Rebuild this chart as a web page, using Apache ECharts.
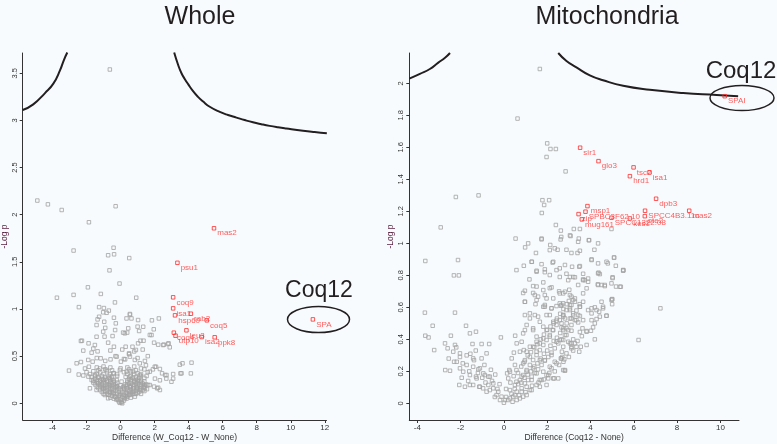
<!DOCTYPE html>
<html>
<head>
<meta charset="utf-8">
<script src="https://cdn.jsdelivr.net/npm/echarts@6/dist/echarts.min.js"></script>
<style>
  html, body { margin: 0; padding: 0; background: #f8fbfd; }
  #chart { width: 777px; height: 444px; }
</style>
</head>
<body>
<div id="chart"></div>
<script>
// two volcano plots: whole cell vs mitochondria (Coq12 pulldown)

// tick values
var wholeXTicks = [-4, -2, 0, 2, 4, 6, 8, 10, 12];
var wholeYTicks = [0, 0.5, 1, 1.5, 2, 2.5, 3, 3.5];
var mitoXTicks = [-4, -2, 0, 2, 4, 6, 8, 10];
var mitoYTicks = [0, 0.2, 0.4, 0.6, 0.8, 1, 1.2, 1.4, 1.6, 1.8, 2];

// labelled (red) proteins
var wholeHitNames = ['mas2', 'psu1', 'coq9', 'isa1', 'hsp60', 'rab2', 'coq5', 'leu3', 'coq4', 'utp10', 'isa2', 'ppk8', 'SPA'];
var wholeHits = [[5.49, 1.856], [3.34, 1.49], [3.09, 1.124], [3.09, 1.007], [3.20, 0.933], [4.13, 0.95], [5.07, 0.88],
  [3.87, 0.774], [3.13, 0.749], [3.23, 0.717], [4.77, 0.703], [5.53, 0.70], [11.30, 0.89]];

var mitoHitNames = ['SPAI', 'sir1', 'glo3', 'tsc2', 'isa1', 'hrd1', 'dpb3', 'msp1', 'SPCC4B3.11c', 'mas2',
  'SPBC3F62.10', 'zip', 'mug161', 'SPCC1322.08', 'kes1', 'ste2'];
var mitoHits = [[10.2, 1.92], [3.52, 1.598], [4.37, 1.514], [5.99, 1.475], [6.73, 1.444], [5.82, 1.42], [7.03, 1.279],
  [3.86, 1.233], [6.52, 1.204], [8.56, 1.204], [3.77, 1.198], [3.45, 1.183], [3.6, 1.15], [4.97, 1.16], [5.82, 1.156], [6.51, 1.17]];

// significance curves
var wholeCurveL = [[-5.75, 3.11], [-5.13, 3.17], [-4.44, 3.29], [-3.95, 3.39], [-3.56, 3.53], [-3.33, 3.64], [-3.13, 3.72]];
var wholeCurveR = [[3.15, 3.72], [3.38, 3.59], [3.58, 3.50], [3.77, 3.44], [3.97, 3.385], [4.26, 3.31], [4.55, 3.25],
  [4.85, 3.20], [5.24, 3.145], [5.83, 3.09], [6.31, 3.057], [6.81, 3.03], [7.29, 3.004], [7.78, 2.98], [8.27, 2.96],
  [8.76, 2.942], [9.25, 2.927], [9.74, 2.914], [10.72, 2.89], [11.4, 2.876], [12.12, 2.863]];
var mitoCurveL = [[-4.37, 2.03], [-3.88, 2.06], [-3.42, 2.09], [-3.03, 2.13], [-2.72, 2.16], [-2.49, 2.19]];
var mitoCurveR = [[2.51, 2.19], [2.89, 2.14], [3.35, 2.10], [3.97, 2.05], [4.58, 2.02], [5.51, 1.985], [6.74, 1.96],
  [8.28, 1.94], [9.82, 1.928], [10.82, 1.92]];

// all other proteins (grey)
var wholeGray = [
  [-0.63, 3.54], [-4.89, 2.15], [-4.27, 2.11], [-3.46, 2.05], [-0.29, 2.09], [-1.86, 1.92], [-0.41, 1.65], [-2.76, 1.62],
  [-0.73, 1.57], [-0.38, 1.58], [0.51, 1.54], [-0.65, 1.41], [-0.06, 1.27], [-1.92, 1.23], [-2.76, 1.15], [-3.74, 1.12],
  [-1.16, 1.16], [0.92, 1.12], [-0.33, 1.07], [-2.45, 1.02], [-1.26, 1.02], [-0.98, 1.01],
  [-1.02, 0.965], [-0.69, 0.983], [-1.35, 0.89], [-0.39, 0.908], [0.55, 0.94], [0.35, 0.90], [1.0, 0.813], [1.84, 0.88],
  [-0.90, 0.80], [0.15, 0.75], [0.39, 0.75], [-0.94, 0.707], [-0.47, 0.713], [-0.32, 0.777], [-2.27, 0.664], [-1.88, 0.636],
  [-1.51, 0.618], [-0.73, 0.643], [-0.39, 0.60], [1.17, 0.664], [1.35, 0.664], [1.03, 0.636], [1.72, 0.725], [2.54, 0.622],
  [2.82, 0.636], [2.21, 0.622], [0.70, 0.60], [0.90, 0.566], [0.50, 0.53], [-2.19, 0.559], [-1.70, 0.537], [-1.35, 0.551],
  [-3.03, 0.347], [-2.58, 0.424], [-2.33, 0.438], [-2.09, 0.369], [-2.46, 0.305], [-2.19, 0.295], [-1.86, 0.388], [-1.64, 0.442],
  [-1.17, 0.477], [-0.59, 0.466], [-0.23, 0.495], [0.02, 0.442], [0.27, 0.466], [0.55, 0.495], [0.84, 0.46], [1.13, 0.424],
  [1.43, 0.449], [1.49, 0.403], [1.72, 0.336], [2.08, 0.388], [2.31, 0.364], [2.62, 0.30], [3.09, 0.31], [3.52, 0.317],
  [4.13, 0.317], [4.17, 0.431], [3.64, 0.424], [3.09, 0.262], [2.69, 0.262], [2.31, 0.244], [2.02, 0.262], [1.72, 0.194],
  [1.97, 0.177], [2.21, 0.166], [1.09, 0.24], [0.55, 0.283], [1.53, 0.29], [1.13, 0.30], [0.74, 0.336], [0.35, 0.336],
  [-0.04, 0.353], [-0.43, 0.317], [-0.82, 0.353], [-1.21, 0.369], [-1.50, 0.30], [-1.89, 0.283], [-1.70, 0.247], [-1.80, 0.159],
  [-1.31, 0.212], [-1.02, 0.247], [-0.63, 0.265], [-0.23, 0.247], [0.06, 0.23], [0.84, 0.23], [1.39, 0.194], [0.94, 0.159],
  [0.55, 0.177], [0.23, 0.159], [-0.23, 0.177], [-0.63, 0.194], [-1.02, 0.159], [-1.41, 0.141], [-0.92, 0.088], [-0.63, 0.124],
  [-0.33, 0.071], [-0.14, 0.035], [0.06, 0.018], [0.25, 0.053], [0.55, 0.088], [0.74, 0.124], [0.35, 0.113], [-0.04, 0.088],
  [-0.43, 0.113], [1.13, 0.141], [1.43, 0.159], [-0.73, 0.053], [0.84, 0.071],
  [2.50, 0.618], [2.79, 0.629], [2.89, 0.594], [3.48, 0.41], [3.58, 0.318], [2.99, 0.229], [2.70, 0.30], [1.97, 0.643],
  [1.95, 0.785], [2.25, 0.90], [1.33, 0.812], [1.09, 0.767], [1.82, 0.724], [-2.33, 0.661], [-1.41, 0.706], [-1.02, 0.76],
  [-1.41, 0.83], [-0.96, 0.865], [-1.26, 0.918], [-0.82, 0.96], [-0.28, 0.848], [0.25, 0.742], [0.45, 0.795], [0.64, 0.9],
  [0.55, 0.947], [1.03, 0.883], [2.01, 0.388], [2.44, 0.318], [2.15, 0.159], [2.31, 0.141], [1.62, 0.194],
  [-0.25, 0.04], [-0.1, 0.02], [0.05, 0.01], [0.2, 0.03], [0.35, 0.05], [0.1, 0.0], [-0.05, 0.005],
  [-0.7, 0.09], [-0.5, 0.08], [-0.3, 0.07], [-0.1, 0.08], [0.1, 0.07], [0.3, 0.08], [0.5, 0.09], [0.7, 0.1], [0.9, 0.1],
  [-1.1, 0.12], [-0.9, 0.13], [-0.7, 0.12], [-0.5, 0.12], [-0.3, 0.13], [-0.1, 0.12], [0.1, 0.12], [0.3, 0.11], [0.5, 0.13],
  [0.7, 0.12], [0.9, 0.13], [1.1, 0.12], [1.3, 0.14],
  [-1.3, 0.16], [-1.1, 0.17], [-0.9, 0.16], [-0.7, 0.17], [-0.5, 0.16], [-0.3, 0.17], [-0.1, 0.16], [0.15, 0.17], [0.35, 0.16],
  [0.55, 0.17], [0.75, 0.16], [0.95, 0.17], [1.15, 0.16], [1.35, 0.17], [1.55, 0.15],
  [-1.5, 0.2], [-1.3, 0.21], [-1.1, 0.2], [-0.9, 0.21], [-0.7, 0.2], [-0.5, 0.21], [-0.3, 0.2], [0.3, 0.2], [0.5, 0.21],
  [0.7, 0.2], [0.9, 0.21], [1.1, 0.2], [1.3, 0.21], [1.5, 0.2],
  [-1.6, 0.24], [-1.4, 0.25], [-1.2, 0.24], [-1.0, 0.25], [-0.8, 0.24], [-0.6, 0.25], [-0.4, 0.24], [0.4, 0.24], [0.6, 0.25],
  [0.8, 0.24], [1.0, 0.25], [1.2, 0.24],
  [-1.7, 0.28], [-1.5, 0.29], [-1.3, 0.28], [-1.1, 0.29], [-0.9, 0.28], [-0.7, 0.29], [-0.5, 0.28], [-0.2, 0.29], [0.3, 0.28],
  [0.6, 0.29], [0.9, 0.28], [1.2, 0.29], [1.4, 0.27],
  [-2.0, 0.33], [-1.6, 0.34], [-1.2, 0.33], [-0.8, 0.34], [-0.4, 0.32], [0.2, 0.33], [0.6, 0.34], [1.0, 0.32], [1.6, 0.33],
  [-1.4, 0.38], [-1.0, 0.39], [-0.6, 0.38], [0.4, 0.38], [0.8, 0.39], [1.2, 0.37], [1.9, 0.36],
  [-1.9, 0.46], [-1.4, 0.48], [-0.9, 0.45], [-0.3, 0.5], [0.2, 0.47], [0.5, 0.52], [1.0, 0.48], [1.6, 0.5], [-0.6, 0.56],
  [0.1, 0.57], [0.8, 0.55], [-1.6, 0.58], [0.3, 0.6], [1.3, 0.57],
  [-0.6, 0.06], [-0.4, 0.05], [-0.2, 0.05], [0.0, 0.04], [0.2, 0.06], [0.4, 0.07], [0.6, 0.06],
  [-1.0, 0.1], [-0.8, 0.1], [-0.6, 0.11], [-0.4, 0.1], [-0.2, 0.1], [0.0, 0.1], [0.2, 0.09], [0.4, 0.1], [0.6, 0.11],
  [0.8, 0.1], [1.0, 0.11], [1.2, 0.1],
  [-1.2, 0.14], [-1.0, 0.15], [-0.8, 0.14], [-0.6, 0.15], [-0.4, 0.14], [-0.2, 0.15], [0.0, 0.14], [0.2, 0.15], [0.4, 0.14],
  [0.6, 0.15], [0.8, 0.14], [1.0, 0.15], [1.2, 0.14], [1.4, 0.13],
  [-1.4, 0.18], [-1.2, 0.19], [-1.0, 0.18], [-0.8, 0.19], [-0.6, 0.18], [-0.4, 0.19], [-0.2, 0.18], [0.0, 0.19], [0.2, 0.18],
  [0.4, 0.19], [0.6, 0.18], [0.8, 0.19], [1.0, 0.18], [1.2, 0.19], [1.4, 0.18],
  [-1.6, 0.22], [-1.4, 0.23], [-1.2, 0.22], [-1.0, 0.23], [-0.8, 0.22], [-0.6, 0.23], [-0.4, 0.22], [-0.2, 0.22], [0.4, 0.22],
  [0.6, 0.23], [0.8, 0.22], [1.0, 0.23], [1.2, 0.22], [1.4, 0.23],
  [-1.5, 0.26], [-1.3, 0.27], [-1.1, 0.26], [-0.9, 0.26], [-0.7, 0.27], [-0.5, 0.26], [0.5, 0.26], [0.7, 0.27], [0.9, 0.26],
  [1.1, 0.27],
  [-1.8, 0.31], [-1.4, 0.31], [-1.0, 0.31], [-0.6, 0.31], [-0.2, 0.31], [0.4, 0.31], [0.8, 0.31], [1.2, 0.31], [-1.3, 0.35],
  [-0.9, 0.36], [-0.5, 0.35], [0.0, 0.37], [0.5, 0.36], [0.9, 0.35], [1.4, 0.36]
];

var mitoGray = [
  [1.66, 2.09], [0.63, 1.78], [2.0, 1.625], [2.15, 1.59], [2.4, 1.59], [1.97, 1.54], [2.85, 1.45], [-2.22, 1.29], [-1.17, 1.30],
  [1.78, 1.27], [2.09, 1.27], [1.86, 1.24], [1.75, 1.19], [-2.92, 1.10], [2.4, 1.115], [2.63, 1.08], [3.23, 1.09], [3.51, 1.09],
  [4.97, 1.09], [0.54, 1.03], [1.74, 1.03], [2.65, 1.04], [3.08, 1.046], [3.46, 1.03], [3.92, 1.02], [4.35, 1.0], [0.98, 0.975],
  [1.12, 1.0], [2.14, 0.99], [2.48, 0.96], [2.89, 0.96], [3.4, 0.94], [4.18, 0.96], [-3.63, 0.89], [-2.12, 0.896], [1.29, 0.885],
  [1.74, 0.87], [2.25, 0.88], [3.15, 0.854], [3.48, 0.854], [4.05, 0.896], [5.09, 0.91], [5.17, 0.86], [5.52, 0.833],
  [-2.31, 0.80], [-2.08, 0.80], [0.58, 0.833], [0.92, 0.86], [1.51, 0.823], [1.89, 0.82], [2.43, 0.833], [2.89, 0.81],
  [3.2, 0.79], [3.66, 0.775], [4.37, 0.817], [4.8, 0.875], [5.02, 0.783], [1.18, 0.775], [1.51, 0.73], [1.82, 0.756],
  [2.12, 0.72], [2.55, 0.70], [3.02, 0.71], [3.43, 0.74], [3.89, 0.76], [4.34, 0.744], [4.66, 0.74], [5.18, 0.73],
  [0.97, 0.704], [0.97, 0.635], [1.43, 0.677], [1.89, 0.677], [1.46, 0.62], [1.82, 0.604], [2.2, 0.594], [2.63, 0.61],
  [3.05, 0.594], [3.51, 0.604], [3.89, 0.583], [4.28, 0.583], [4.58, 0.604], [5.0, 0.652], [5.0, 0.62], [4.74, 0.548],
  [7.23, 0.594], [0.97, 0.552], [1.2, 0.531], [1.58, 0.542], [2.12, 0.552], [2.43, 0.517], [2.74, 0.542], [3.12, 0.531],
  [3.43, 0.506], [3.66, 0.52], [4.05, 0.52], [4.43, 0.542], [-3.65, 0.567], [-2.26, 0.567], [-3.29, 0.485], [-3.63, 0.423],
  [-3.48, 0.412], [-3.22, 0.333], [-2.45, 0.423], [-1.75, 0.485], [-1.57, 0.4375], [-1.29, 0.448], [-2.26, 0.365],
  [-0.14, 0.412], [0.52, 0.423], [0.97, 0.458], [1.35, 0.469], [1.82, 0.479], [2.25, 0.458], [2.66, 0.475], [3.12, 0.454],
  [3.51, 0.446], [3.82, 0.452], [4.2, 0.40], [6.22, 0.396], [3.48, 0.323], [2.82, 0.204], [-2.72, 0.375], [-2.6, 0.344],
  [-2.34, 0.323], [-1.45, 0.371], [-1.03, 0.371], [-0.68, 0.371], [0.46, 0.317], [0.82, 0.385], [0.92, 0.333], [1.2, 0.354],
  [1.51, 0.385], [1.82, 0.406], [2.12, 0.417], [2.43, 0.385], [2.74, 0.396], [3.05, 0.375], [3.35, 0.354], [3.82, 0.365],
  [2.68, 0.323], [2.63, 0.281], [-2.71, 0.208], [-2.49, 0.204], [-2.18, 0.26], [-2.03, 0.29], [-1.72, 0.24], [-1.38, 0.27],
  [-1.18, 0.2125], [-1.88, 0.198], [-2.06, 0.115], [-1.57, 0.115], [-1.29, 0.167], [-0.95, 0.1875], [-0.65, 0.167],
  [-0.72, 0.115], [-1.11, 0.104], [-0.49, 0.094], [-0.26, 0.073], [-0.11, 0.042], [0.05, 0.021], [0, 0.004], [0.15, 0.1875],
  [0.25, 0.208], [0.58, 0.208], [0.58, 0.135], [0.82, 0.167], [1.05, 0.198], [0.89, 0.25], [1.35, 0.219], [1.51, 0.1875],
  [1.28, 0.146], [1.05, 0.104], [0.82, 0.073], [0.51, 0.052], [0.28, 0.031], [1.66, 0.146], [1.82, 0.198], [2.12, 0.229],
  [2.32, 0.156], [2.05, 0.177], [1.89, 0.27], [1.66, 0.27], [2.2, 0.302], [2.35, 0.26], [1.51, 0.323], [1.2, 0.29], [0.97, 0.27],
  [-2.03, 0.3125], [-1.72, 0.30], [-1.42, 0.281], [-1.03, 0.281], [-0.80, 0.3125], [-2.03, 0.219], [-1.42, 0.229], [-1.11, 0.219],
  [-1.57, 0.177], [-1.26, 0.156], [-0.88, 0.177], [-0.72, 0.167], [-0.49, 0.125], [-0.65, 0.083], [-0.96, 0.094], [-0.34, 0.052],
  [-0.18, 0.021], [-1.8, 0.104], [-1.42, 0.115], [-1.14, 0.104], [-0.80, 0.073], [-0.42, 0.04],
  [0.2, 0.021], [0.43, 0.042], [0.59, 0.073], [0.82, 0.094], [0.97, 0.125], [1.12, 0.146], [1.28, 0.167], [1.43, 0.19],
  [1.58, 0.2125], [1.74, 0.24], [1.89, 0.267], [2.05, 0.29], [2.2, 0.317], [2.35, 0.344], [2.51, 0.375], [2.66, 0.4],
  [2.82, 0.427], [2.97, 0.458], [3.12, 0.49], [3.28, 0.52], [3.43, 0.552],
  [0.28, 0.083], [0.51, 0.115], [0.74, 0.146], [0.89, 0.177], [1.05, 0.208], [1.2, 0.24], [1.35, 0.271], [1.51, 0.302],
  [1.66, 0.333], [1.82, 0.365], [1.97, 0.396], [2.12, 0.427], [2.28, 0.458], [2.43, 0.49], [2.58, 0.52], [2.74, 0.552],
  [2.89, 0.583], [3.05, 0.615], [3.2, 0.646],
  [0.59, 0.021], [0.89, 0.042], [1.2, 0.083], [1.51, 0.115], [1.74, 0.146], [1.97, 0.177], [2.2, 0.219], [2.43, 0.25],
  [2.66, 0.281], [2.89, 0.3125], [3.12, 0.354], [3.28, 0.375], [2.82, 0.208], [2.28, 0.156], [1.97, 0.115],
  [3.55, 0.354], [3.12, 0.344], [3.12, 0.375], [2.79, 0.275], [2.7, 0.29], [3.2, 0.40], [2.89, 0.427], [3.63, 0.469],
  [3.82, 0.448], [4.02, 0.454], [4.12, 0.475], [4.2, 0.5], [4.28, 0.527], [4.74, 0.548], [4.58, 0.594], [4.2, 0.60],
  [4.05, 0.5625], [4.4, 0.573], [4.51, 0.635], [5.0, 0.65], [3.51, 0.546], [3.35, 0.52], [3.2, 0.5625], [3.05, 0.583],
  [3.51, 0.604], [3.28, 0.635], [3.12, 0.667], [2.82, 0.698], [3.66, 0.6875], [3.82, 0.719], [4.35, 0.74], [4.66, 0.733],
  [5.4, 0.729], [5.02, 0.788], [4.43, 0.808], [3.66, 0.81], [3.28, 0.788], [3.74, 0.77], [2.97, 0.77], [5.51, 0.829],
  [2.66, 0.615], [2.74, 0.552], [2.82, 0.531], [2.66, 0.5], [2.89, 0.469], [2.74, 0.458], [2.58, 0.396], [2.97, 0.385],
  [2.74, 0.354],
  [1.74, 1.025], [2.62, 1.025], [3.05, 1.05], [3.43, 1.01], [3.94, 1.02], [1.48, 0.94], [2.12, 0.958], [2.35, 0.969],
  [3.12, 0.94], [3.51, 0.954], [4.05, 0.90], [4.74, 0.885], [5.09, 0.9125], [5.51, 0.833], [1.28, 0.885], [1.51, 0.829],
  [1.89, 0.8375], [2.28, 0.885], [2.58, 0.844], [2.82, 0.865], [3.51, 0.858], [4.35, 0.875], [4.35, 0.8125], [2.12, 0.802],
  [2.58, 0.79], [3.05, 0.79], [3.66, 0.77], [3.89, 0.78], [4.51, 0.74], [4.97, 0.75], [5.36, 0.729], [1.35, 0.733],
  [1.82, 0.708], [2.2, 0.725], [2.58, 0.6875], [3.05, 0.677], [3.28, 0.656], [1.97, 0.656], [1.51, 0.646], [2.74, 0.625],
  [3.12, 0.615], [2.43, 0.608], [1.89, 0.604], [3.66, 0.635], [4.05, 0.594], [4.97, 0.646],
  [0.97, 0.635], [1.2, 0.5625], [1.05, 0.49], [0.89, 0.4375], [0.59, 0.375], [0.74, 0.323], [0.36, 0.281], [0.51, 0.24],
  [0.28, 0.198], [0.2, 0.156], [1.51, 0.417], [1.35, 0.458], [1.66, 0.51], [1.43, 0.552], [1.97, 0.552], [1.89, 0.615],
  [2.2, 0.594], [1.58, 0.667], [2.28, 0.656], [2.58, 0.625], [2.74, 0.6875], [1.35, 0.69], [0.89, 0.69], [1.05, 0.323],
  [1.35, 0.354], [1.66, 0.375], [1.97, 0.458], [2.28, 0.51], [2.74, 0.208], [2.51, 0.156], [2.05, 0.156], [1.66, 0.104],
  [1.28, 0.083], [1.05, 0.052], [0.74, 0.031],
  [0.1, 0.04], [0.35, 0.06], [0.5, 0.09], [0.66, 0.12], [0.8, 0.13], [0.95, 0.16], [1.1, 0.18], [1.25, 0.2], [1.4, 0.23],
  [1.55, 0.25], [1.7, 0.28], [1.85, 0.31], [2.0, 0.33], [2.15, 0.36], [2.3, 0.39], [2.45, 0.41], [2.6, 0.44], [2.75, 0.47],
  [2.9, 0.5], [3.05, 0.53], [3.2, 0.55], [3.35, 0.58], [3.5, 0.62],
  [0.4, 0.01], [0.7, 0.05], [1.0, 0.07], [1.3, 0.11], [1.6, 0.13], [1.85, 0.15], [2.1, 0.19], [2.35, 0.2], [2.55, 0.24],
  [2.75, 0.26], [3.0, 0.29], [3.2, 0.33], [3.4, 0.39], [3.6, 0.42],
  [0.1, 0.09], [0.3, 0.13], [0.45, 0.17], [0.65, 0.19], [0.8, 0.23], [0.95, 0.26], [1.1, 0.3], [1.25, 0.32], [1.4, 0.35],
  [1.55, 0.37], [1.7, 0.4], [1.85, 0.43], [2.0, 0.46], [2.15, 0.48], [2.3, 0.5], [2.45, 0.53], [2.6, 0.56], [2.75, 0.59],
  [2.9, 0.62], [3.0, 0.64],
  [-0.3, 0.09], [-0.55, 0.14], [-0.85, 0.13], [-1.0, 0.16], [-1.2, 0.19], [-1.6, 0.2], [-1.9, 0.25], [-1.55, 0.31],
  [-1.3, 0.33], [-0.9, 0.24], [-0.6, 0.21], [-0.4, 0.18], [-2.3, 0.26], [-2.55, 0.28], [-1.95, 0.16], [-1.65, 0.14],
  [-0.2, 0.12], [-2.2, 0.35]
];

var chart = echarts.init(document.getElementById('chart'));

var font = 'Liberation Sans';
var ink = '#231f20';

// shared axis styling
function xAxisFor(gridIndex, min, max, ticks, name) {
  return {
    type: 'value', gridIndex: gridIndex, min: min, max: max,
    name: name, nameLocation: 'middle', nameGap: 13, nameMoveOverlap: false,
    nameTextStyle: { color: '#333', fontSize: 8.5, fontFamily: font },
    splitLine: { show: false },
    axisLine: { onZero: false, lineStyle: { color: '#333', width: 1 } },
    axisTick: { customValues: ticks, length: 3, lineStyle: { color: '#333' } },
    axisLabel: { customValues: ticks, color: '#333', fontSize: 8, fontFamily: font, margin: 4 }
  };
}
function yAxisFor(gridIndex, min, max, ticks) {
  return {
    type: 'value', gridIndex: gridIndex, min: min, max: max,
    name: '-Log p', nameLocation: 'middle', nameGap: 14, nameRotate: 90, nameMoveOverlap: false,
    nameTextStyle: { color: '#5a2040', fontSize: 8.5, fontFamily: font },
    splitLine: { show: false },
    axisLine: { onZero: false, lineStyle: { color: '#333', width: 1 } },
    axisTick: { customValues: ticks, length: 3, lineStyle: { color: '#333' } },
    axisLabel: { customValues: ticks, rotate: 90, color: '#333', fontSize: 7.5, fontFamily: font, margin: 4 }
  };
}
function grayScatter(idx, data) {
  return {
    type: 'scatter', xAxisIndex: idx, yAxisIndex: idx, data: data,
    symbol: 'rect', symbolSize: 3.5, silent: true,
    itemStyle: { color: 'rgba(0,0,0,0)', borderColor: '#a2a2a2', borderWidth: 1 },
    z: 2
  };
}
function hitScatter(idx, pts, names) {
  return {
    type: 'scatter', xAxisIndex: idx, yAxisIndex: idx,
    data: pts.map(function (p, i) { return { name: names[i], value: p }; }),
    symbol: 'rect', symbolSize: 3.5,
    itemStyle: { color: 'rgba(0,0,0,0)', borderColor: '#ff2a2a', borderWidth: 1 },
    label: { show: true, position: 'right', distance: 1, offset: [0, 5], formatter: '{b}',
      color: '#ff3333', fontSize: 8, fontFamily: font },
    z: 4
  };
}
function curve(idx, data) {
  return {
    type: 'line', xAxisIndex: idx, yAxisIndex: idx, data: data,
    smooth: true, symbol: 'none', silent: true,
    lineStyle: { color: ink, width: 2 }, z: 3
  };
}

var option = {
  backgroundColor: '#f8fbfd',
  animation: false,
  title: [
    { text: 'Whole', left: 195, top: 0, textAlign: 'center',
      textStyle: { color: ink, fontSize: 25, fontWeight: 'normal', fontFamily: font } },
    { text: 'Mitochondria', left: 602, top: 0, textAlign: 'center',
      textStyle: { color: ink, fontSize: 25, fontWeight: 'normal', fontFamily: font } }
  ],
  grid: [
    { left: 22.7, top: 53, width: 303.8, height: 367, outerBoundsMode: 'none', containLabel: false },
    { left: 409.3, top: 53, width: 329.7, height: 367, outerBoundsMode: 'none', containLabel: false }
  ],
  xAxis: [
    xAxisFor(0, -5.75, 12.1, wholeXTicks, 'Difference (W_Coq12 - W_None)'),
    xAxisFor(1, -4.37, 10.86, mitoXTicks, 'Difference (Coq12 - None)')
  ],
  yAxis: [
    yAxisFor(0, -0.177, 3.715, wholeYTicks),
    yAxisFor(1, -0.104, 2.19, mitoYTicks)
  ],
  series: [
    grayScatter(0, wholeGray),
    curve(0, wholeCurveL),
    curve(0, wholeCurveR),
    hitScatter(0, wholeHits, wholeHitNames),
    grayScatter(1, mitoGray),
    curve(1, mitoCurveL),
    curve(1, mitoCurveR),
    hitScatter(1, mitoHits, mitoHitNames)
  ],
  graphic: [
    { type: 'text', x: 319, y: 291, style: { text: 'Coq12', fill: ink, fontSize: 23, fontFamily: font,
      textAlign: 'center', textVerticalAlign: 'middle' } },
    { type: 'ellipse', shape: { cx: 318.5, cy: 319.5, rx: 31, ry: 13 },
      style: { fill: 'none', stroke: ink, lineWidth: 1.5 } },
    { type: 'text', x: 741, y: 71, style: { text: 'Coq12', fill: ink, fontSize: 24, fontFamily: font,
      textAlign: 'center', textVerticalAlign: 'middle' } },
    { type: 'ellipse', shape: { cx: 742, cy: 98, rx: 32, ry: 12.5 },
      style: { fill: 'none', stroke: ink, lineWidth: 1.5 } }
  ]
};

chart.setOption(option);
</script>
</body>
</html>
